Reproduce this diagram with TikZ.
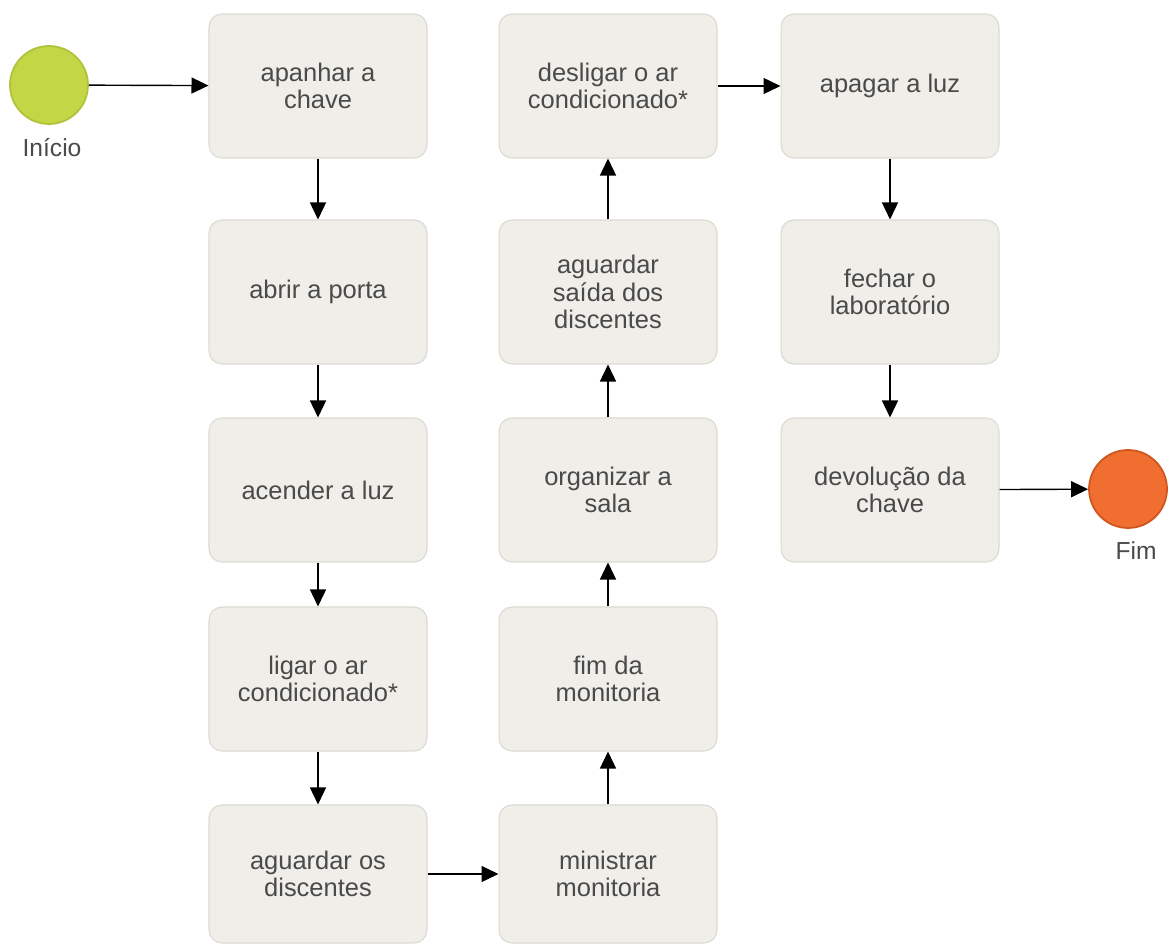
\documentclass[tikz,border=0pt]{standalone}
\usepackage{fontspec}
\setmainfont{Liberation Sans}
\usetikzlibrary{arrows.meta}
\definecolor{caixa}{HTML}{F0EEE8}
\definecolor{borda}{HTML}{DCD9D0}
\definecolor{texto}{HTML}{4A4A4A}
\definecolor{verde}{HTML}{C3D645}
\definecolor{verdeb}{HTML}{AFC23A}
\definecolor{laranja}{HTML}{EF6E30}
\definecolor{laranjab}{HTML}{D0561E}
\tikzset{
  passo/.style={draw=borda,fill=caixa,rounded corners=.26cm,line width=.6pt,
    minimum width=4.36cm,minimum height=2.88cm,inner sep=0pt,align=center,
    text=texto,font=\fontsize{14.5}{15.5}\selectfont},
  evento/.style={circle,minimum size=1.56cm,inner sep=0pt,line width=1pt},
  rotulo/.style={text=texto,font=\fontsize{14}{16}\selectfont},
  seta/.style={-{Triangle[length=.34cm,width=.32cm]},line width=.8pt}
}
\begin{document}
\begin{tikzpicture}[x=.02cm,y=-.02cm]
\useasboundingbox[fill=white] (0,0) rectangle (1169,945);
\node[evento,fill=verde,draw=verdeb] (inicio) at (49,85) {};
\node[rotulo] (linicio) at (52,148) {Início};
\node[evento,fill=laranja,draw=laranjab] (fim) at (1128,489) {};
\node[rotulo] (lfim) at (1136,551) {Fim};
\foreach \nm/\px/\py/\txt in {
  chave/318/86/{apanhar a\\chave},
  porta/318/292/{abrir a porta},
  luz/318/490/{acender a luz},
  ar/318/679/{ligar o ar\\condicionado*},
  fimmon/608/679/{fim da\\monitoria},
  sala/608/490/{organizar a\\sala},
  saida/608/292/{aguardar\\saída dos\\discentes},
  desar/608/86/{desligar o ar\\condicionado*},
  apaga/890/86/{apagar a luz},
  fecha/890/292/{fechar o\\laboratório},
  devol/890/490/{devolução da\\chave}}{
  \node[passo] (\nm) at (\px,\py) {\txt};
}
% linha de baixo, um pouco mais baixa
\foreach \nm/\px/\txt in {espera/318/{aguardar os\\discentes},
  ministrar/608/{ministrar\\monitoria}}{
  \node[passo,minimum height=2.76cm] (\nm) at (\px,874) {\txt};
}
\foreach \a/\b in {inicio/chave,chave/porta,porta/luz,luz/ar,ar/espera,
  espera/ministrar,ministrar/fimmon,fimmon/sala,sala/saida,saida/desar,
  desar/apaga,apaga/fecha,fecha/devol,devol/fim}{
  \draw[seta] (\a) -- (\b);
}
\end{tikzpicture}
\end{document}
